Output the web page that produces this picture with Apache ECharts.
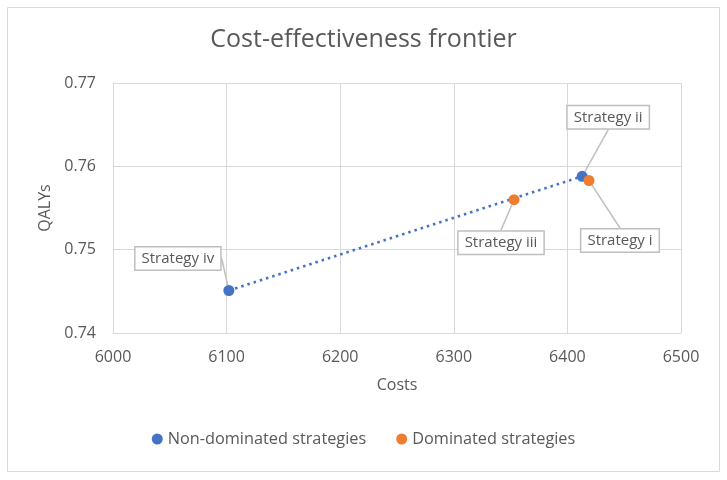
<!DOCTYPE html>
<html>
<head>
<meta charset="utf-8">
<script src="https://cdn.jsdelivr.net/npm/echarts@6/dist/echarts.min.js"></script>
<style>
  html, body { margin: 0; padding: 0; background: #fff; }
  #chart { width: 727px; height: 480px; }
</style>
</head>
<body>
<div id="chart"></div>
<script>
// non-dominated strategies (frontier)
const frontNames = ['Strategy iv', 'Strategy ii']
const frontCosts = [6102, 6413]
const frontQalys = [0.7451, 0.7588]

// dominated strategies
const domNames = ['Strategy iii', 'Strategy i']
const domCosts = [6353, 6419]
const domQalys = [0.7560, 0.7583]

const xTicks = [6000, 6500, 100]
const yTicks = [0.74, 0.77, 0.01]

// label offsets from the point (callout boxes)
const labelShift = {
  'Strategy iv': [-51, -32],
  'Strategy ii': [26, -59],
  'Strategy iii': [-13, 43],
  'Strategy i': [31, 60]
}

const font = 'Open Sans'
const grey = '#595959'

const chart = echarts.init(document.getElementById('chart'))

function pts(names, xs, ys) {
  return names.map((n, i) => ({ name: n, value: [xs[i], ys[i]] }))
}

const labelStyle = {
  show: true,
  position: 'inside',
  formatter: '{b}',
  fontFamily: font,
  fontSize: 15,
  color: grey,
  backgroundColor: '#fff',
  borderColor: '#bfbfbf',
  borderWidth: 1.5,
  padding: [4, 6, 3, 6]
}

function layout(params) {
  const s = labelShift[params.text] || [0, 0]
  return { dx: s[0], dy: s[1] }
}

const option = {
  animation: false,
  textStyle: { fontFamily: font },
  graphic: [{
    type: 'rect',
    shape: { x: 7.5, y: 7.5, width: 712, height: 464 },
    style: { fill: 'none', stroke: '#d9d9d9', lineWidth: 1 },
    z: -1
  }],
  title: {
    text: 'Cost-effectiveness frontier',
    left: 'center',
    top: 22,
    textStyle: { fontFamily: font, fontSize: 25, fontWeight: 'normal', color: grey }
  },
  grid: { left: 113, right: 46, top: 83, bottom: 147 },
  legend: {
    bottom: 28,
    left: 'center',
    itemGap: 30,
    itemWidth: 11,
    itemHeight: 11,
    textStyle: { fontFamily: font, fontSize: 16.3, color: grey },
    data: [
      { name: 'Non-dominated strategies', icon: 'circle' },
      { name: 'Dominated strategies', icon: 'circle' }
    ]
  },
  xAxis: {
    type: 'value',
    min: xTicks[0],
    max: xTicks[1],
    interval: xTicks[2],
    name: 'Costs',
    nameLocation: 'middle',
    nameGap: 44,
    nameTextStyle: { fontFamily: font, fontSize: 16, color: grey },
    axisLine: { show: true, lineStyle: { color: '#d9d9d9' } },
    axisTick: { show: false },
    axisLabel: {
      fontFamily: font, fontSize: 16, color: grey, margin: 16,
      formatter: v => String(v)
    },
    splitLine: { show: true, lineStyle: { color: '#d9d9d9' } }
  },
  yAxis: {
    type: 'value',
    min: yTicks[0],
    max: yTicks[1],
    interval: yTicks[2],
    name: 'QALYs',
    nameLocation: 'middle',
    nameGap: 56,
    nameTextStyle: { fontFamily: font, fontSize: 16, color: grey },
    axisLine: { show: true, lineStyle: { color: '#d9d9d9' } },
    axisTick: { show: false },
    axisLabel: {
      fontFamily: font, fontSize: 16, color: grey, margin: 17,
      formatter: v => v.toFixed(2)
    },
    splitLine: { show: true, lineStyle: { color: '#d9d9d9' } }
  },
  series: [
    {
      name: 'Non-dominated strategies',
      type: 'line',
      data: pts(frontNames, frontCosts, frontQalys),
      symbol: 'circle',
      symbolSize: 11,
      showSymbol: true,
      itemStyle: { color: '#4472c4', opacity: 1 },
      lineStyle: { color: '#4472c4', width: 2.5, type: [2.5, 4] },
      label: labelStyle,
      labelLine: { show: true, lineStyle: { color: '#bfbfbf', width: 1.5 } },
      labelLayout: layout,
      z: 3
    },
    {
      name: 'Dominated strategies',
      type: 'scatter',
      data: pts(domNames, domCosts, domQalys),
      symbol: 'circle',
      symbolSize: 11,
      itemStyle: { color: '#ed7d31', opacity: 1 },
      label: labelStyle,
      labelLine: { show: true, lineStyle: { color: '#bfbfbf', width: 1.5 } },
      labelLayout: layout,
      z: 4
    }
  ]
}

chart.setOption(option)
</script>
</body>
</html>
